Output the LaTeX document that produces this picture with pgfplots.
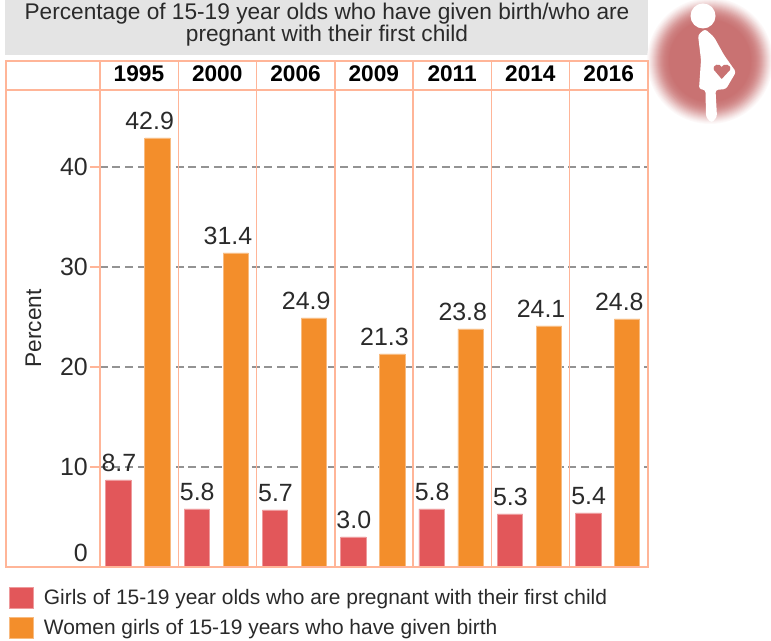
\documentclass[border=0pt]{standalone}
\usepackage{fontspec}
\setmainfont{Liberation Sans}
\usepackage{pgfplots}
\pgfplotsset{compat=1.18}
\definecolor{frameor}{HTML}{FFB598}
\definecolor{barred}{HTML}{E2575A}
\definecolor{baror}{HTML}{F38E2B}
\definecolor{txt}{HTML}{2A2A2A}
\definecolor{halo}{HTML}{C97272}
\definecolor{titlebg}{HTML}{E4E4E4}
\begin{document}
\begin{tikzpicture}[x=0.75pt,y=0.75pt]
% page box, 771 x 641 px
\path[use as bounding box] (0,0) rectangle (771,641);
% title
\fill[titlebg] (5,586) rectangle (648,641);
\node[align=center,text=txt,font=\fontsize{17pt}{16.5pt}\selectfont] at (327,616.5) {Percentage of 15-19 year olds who have given birth/who are\\pregnant with their first child};
% icon: soft disc built from concentric circles
\foreach \r/\m in {63/4,62/8,61/13,60/18,59/24,58/30,57/36,56/42,55/48,54/54,53/60,52/66,51/71,50/76,49/80,48/84,47/87,46/90,45/92,44/94,43/96,42/98,41/100}
  \fill[halo!\m!white] (710,580) circle (\r);
\fill[white] (703,625) circle (12.5);
\fill[white,rounded corners=2] (698,606) -- (705,612) -- (714,604) -- (724,586) -- (736,569) -- (726,552) -- (715.5,551) -- (717,524) -- (711.5,518) -- (706,524) -- (705.5,551) -- (699,552) -- (701,581) -- cycle;
\fill[halo] (721.7,562) -- (714,571) .. controls (712,577) and (720,578) .. (721.7,574) .. controls (723,578) and (732,577) .. (730,571) -- cycle;
\begin{axis}[
  at={(127.5,74)},anchor=south west,
  scale only axis,width=411pt,height=357.75pt,
  xmin=-0.5,xmax=6.5,ymin=0,ymax=47.7,
  ybar,
  bar width=19pt,
  axis line style={frameor,line width=1pt},
  xtick={0,1,2,3,4,5,6},
  xticklabels={1995,2000,2006,2009,2011,2014,2016},
  x tick label style={font=\fontsize{17pt}{18pt}\selectfont\bfseries,text=black,yshift=-5pt},
  xticklabel pos=upper,
  x tick style={draw=none},
  ytick={10,20,30,40},
  extra y ticks={0},
  extra y tick style={grid=none,major tick length=0pt,y tick label style={yshift=10.5pt,xshift=-7.5pt}},
  ytick pos=left,
  y tick style={frameor,line width=1pt},
  tick align=outside,
  major tick length=7.5pt,
  y tick label style={font=\fontsize{18.7pt}{20pt}\selectfont,text=txt,xshift=2pt},
  /pgf/number format/assume math mode=true,
  ymajorgrids,
  y grid style={dash pattern=on 6pt off 3.5pt,color=gray!85,line width=0.8pt},
  ylabel={Percent},
  ylabel style={font=\fontsize{17pt}{20pt}\selectfont,text=txt,at={(axis description cs:-0.121,0.5)},anchor=center},
  clip=false,
  legend style={at={(-0.173,-0.0357)},anchor=north west,draw=none,fill=none,
    font=\fontsize{15.7pt}{16pt}\selectfont,text=txt,row sep=5.5pt,
    /tikz/column 1/.style={column sep=5.5pt}},
  legend cell align=left,
  legend image code/.code={\fill[#1] (0pt,-7.9pt) rectangle (18pt,7.9pt);},
]
\addplot[fill=barred,draw=barred!60!white,line width=0.5pt,bar shift=-15.35pt,
  nodes near coords,point meta=explicit symbolic,
  every node near coord/.style={font=\fontsize{18.7pt}{20pt}\selectfont,text=txt,inner sep=1pt,yshift=5pt,xshift=-15pt}]
  coordinates {(0,8.7)[8.7] (1,5.8)[5.8] (2,5.7)[5.7] (3,3.0)[3.0] (4,5.8)[5.8] (5,5.3)[5.3] (6,5.4)[5.4]};
\addlegendentry{Girls of 15-19 year olds who are pregnant with their first child}
\addplot[fill=baror,draw=baror!60!white,line width=0.5pt,bar shift=13.85pt,
  nodes near coords,point meta=explicit symbolic,
  every node near coord/.style={font=\fontsize{18.7pt}{20pt}\selectfont,text=txt,inner sep=1pt,yshift=5pt,xshift=8pt}]
  coordinates {(0,42.9)[42.9] (1,31.4)[31.4] (2,24.9)[24.9] (3,21.3)[21.3] (4,23.8)[23.8] (5,24.1)[24.1] (6,24.8)[24.8]};
\addlegendentry{Women girls of 15-19 years who have given birth}
\end{axis}
% frame and table rules
\draw[frameor,line width=1pt] (6,74) rectangle (648,580);
\draw[frameor,line width=1pt] (6,551) -- (648,551);
\foreach \x in {100,178.3,256.6,334.9,413.1,491.4,569.7}
  \draw[frameor,line width=1pt] (\x,74) -- (\x,580);
\end{tikzpicture}
\end{document}
